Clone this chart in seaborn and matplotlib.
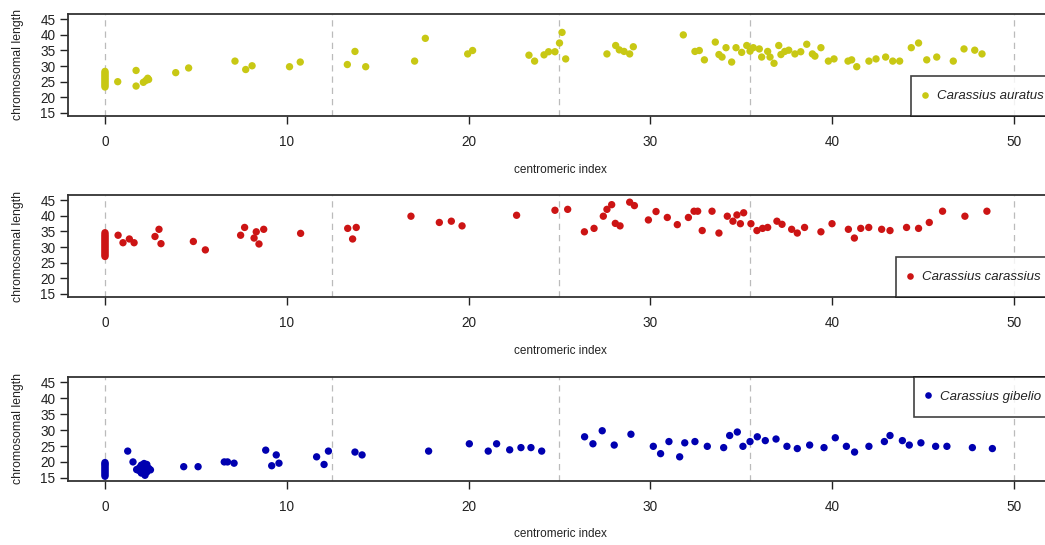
import numpy as np
import pandas as pd
import matplotlib
matplotlib.use("Agg")
import matplotlib.pyplot as plt
import seaborn as sns

# ---- data ----
auratus_ci = [0, 0, 0, 0, 0, 0, 0, 0, 0, 0, 0,
              0.70, 1.71, 1.71, 2.11, 2.25, 2.35, 2.40, 3.89, 4.60, 7.15, 7.74, 8.09,
              10.15, 10.74, 13.33, 13.75, 14.34, 17.03, 17.62, 19.95, 20.22,
              23.32, 23.63, 24.15, 24.40, 24.75, 25.00, 25.14, 25.34,
              27.61, 28.09, 28.29, 28.55, 28.86, 29.06, 31.81,
              32.45, 32.69, 32.97, 33.57, 33.77, 33.94, 34.16, 34.47, 34.71, 35.02,
              35.30, 35.48, 35.66, 35.99, 36.12, 36.45, 36.58, 36.80, 37.06, 37.18,
              37.39, 37.61, 37.95, 38.27, 38.60, 38.91, 39.05, 39.38, 39.79, 40.10,
              40.87, 41.07, 41.35, 42.02, 42.41, 42.94, 43.33, 43.71, 44.35, 44.75,
              45.20, 45.75, 46.66, 47.25, 47.84, 48.24]
auratus_len = [23.3, 23.8, 24.3, 24.8, 25.3, 25.8, 26.3, 26.8, 27.3, 27.8, 28.3,
               25.0, 28.6, 23.6, 24.8, 25.4, 26.1, 25.7, 27.9, 29.4, 31.6, 28.9, 30.1,
               29.8, 31.3, 30.5, 34.7, 29.8, 31.6, 38.9, 33.9, 35.0,
               33.5, 31.6, 33.6, 34.6, 34.6, 37.4, 40.8, 32.3,
               33.9, 36.6, 35.2, 34.7, 33.9, 36.2, 40.0,
               34.7, 35.0, 32.0, 37.7, 33.7, 32.9, 35.9, 31.3, 35.9, 34.4,
               36.6, 34.8, 35.9, 35.5, 32.9, 34.7, 32.9, 30.9, 36.6, 33.7,
               34.7, 35.1, 33.9, 34.6, 37.0, 33.9, 33.2, 35.9, 31.6, 32.3,
               31.6, 32.0, 29.8, 31.6, 32.3, 32.9, 31.6, 31.6, 35.9, 37.4,
               32.0, 32.9, 31.6, 35.5, 35.1, 33.9]

carassius_ci = [0] * 16 + [
                0.72, 0.99, 1.34, 1.60, 2.75, 2.97, 3.08, 4.86, 5.52, 7.46, 7.68,
                8.20, 8.32, 8.47, 8.73, 10.76, 13.35, 13.62, 13.82, 16.83, 18.39,
                19.05, 19.64, 22.64, 24.75, 25.45, 26.37, 26.90, 27.41, 27.61, 27.87,
                28.07, 28.33, 28.86, 29.12, 29.89, 30.31, 30.93, 31.48, 32.09,
                32.40, 32.60, 32.85, 33.39, 33.77, 34.23, 34.54, 34.76, 34.95, 35.13,
                35.53, 35.86, 36.17, 36.45, 36.96, 37.24, 37.77, 38.08, 38.48, 39.38,
                39.99, 40.89, 41.22, 41.57, 42.01, 42.72, 43.18, 44.09, 44.75, 45.34,
                46.07, 47.30, 48.51]
carassius_len = [27.0, 27.5, 28.0, 28.5, 29.0, 29.5, 30.0, 30.5, 31.0, 31.5, 32.0,
                 32.5, 33.0, 33.5, 34.0, 34.6,
                 33.8, 31.4, 32.6, 31.4, 33.4, 35.7, 31.1, 31.8, 29.1, 33.8, 36.3,
                 32.9, 34.9, 31.0, 35.7, 34.4, 36.0, 32.6, 36.3, 39.9, 37.9,
                 38.3, 36.8, 40.2, 41.8, 42.1, 34.9, 36.0, 39.9, 42.1, 43.6,
                 37.6, 36.8, 44.4, 43.3, 38.7, 41.4, 39.5, 37.2, 39.5,
                 41.5, 41.5, 35.3, 41.5, 34.5, 39.9, 38.3, 40.3, 37.5, 41.0,
                 37.5, 35.3, 36.0, 36.3, 38.3, 37.3, 35.7, 34.5, 36.3, 34.9,
                 37.5, 35.7, 32.9, 36.0, 36.3, 35.7, 35.3, 36.3, 36.0, 37.9,
                 41.5, 39.9, 41.5]

gibelio_ci = [0] * 10 + [
              1.25, 1.54, 1.74, 1.80, 1.90, 1.95, 2.00, 2.00, 2.10, 2.10, 2.15, 2.20,
              2.20, 2.30, 2.30, 2.40, 2.50,
              4.33, 5.12, 6.56, 6.74, 7.10, 8.84, 9.17, 9.42, 9.57, 11.64, 12.05,
              12.29, 13.75, 14.14, 17.80, 20.04, 21.08, 21.54, 22.26, 22.88, 23.43,
              24.02, 26.38, 26.84, 27.35, 28.01, 28.93, 30.16, 30.56, 31.02, 31.61,
              31.89, 32.45, 33.13, 34.03, 34.36, 34.78, 35.09, 35.48, 35.88, 36.32,
              36.91, 37.51, 38.08, 38.76, 39.55, 40.17, 40.78, 41.23, 42.02, 42.87,
              43.18, 43.86, 44.24, 44.88, 45.69, 46.31, 47.71, 48.81]
gibelio_len = [15.5, 16.0, 16.5, 17.0, 17.5, 18.0, 18.5, 19.0, 19.4, 19.8,
               23.4, 20.0, 17.6, 17.5, 18.2, 17.0, 16.5, 19.0, 17.0, 18.5, 19.5, 15.8,
               17.8, 19.2, 16.8, 18.0, 17.5,
               18.5, 18.5, 20.0, 20.0, 19.6, 23.7, 18.8, 22.2, 19.6, 21.6, 19.2,
               23.4, 23.1, 22.2, 23.4, 25.7, 23.4, 25.7, 23.8, 24.5, 24.5,
               23.4, 27.9, 25.7, 29.8, 25.3, 28.7, 24.9, 22.6, 26.4, 21.6,
               26.0, 26.4, 24.9, 24.5, 28.3, 29.4, 24.9, 26.4, 27.9, 26.7,
               27.2, 24.9, 24.2, 25.3, 24.5, 27.6, 24.9, 23.1, 24.9, 26.4,
               28.3, 26.7, 25.3, 26.0, 24.9, 24.9, 24.5, 24.2]

species = ["Carassius auratus", "Carassius carassius", "Carassius gibelio"]
colors = ["#C8C814", "#CC1414", "#0000B0"]
x_ticks = [0, 10, 20, 30, 40, 50]
y_ticks = [15, 20, 25, 30, 35, 40, 45]
ref_lines = [0, 12.5, 25, 35.5, 50]

frames = [
    pd.DataFrame({"ci": auratus_ci, "len": auratus_len, "species": species[0]}),
    pd.DataFrame({"ci": carassius_ci, "len": carassius_len, "species": species[1]}),
    pd.DataFrame({"ci": gibelio_ci, "len": gibelio_len, "species": species[2]}),
]

sns.set_style("white")
plt.rcParams["font.family"] = ["Liberation Sans", "DejaVu Sans"]

W, H = 1045, 545
fig = plt.figure(figsize=(W / 100, H / 100), dpi=100)

# pixel geometry: (top, bottom) of each panel, legend left
panels = [(14, 116), (195, 297), (377, 481)]
leg_left = [911, 896, 914]
leg_loc = ["lower left", "lower left", "upper left"]
xlabel_y = [170, 351, 534]
ax_left, ax_right = 68, 1052

for i, df in enumerate(frames):
    top, bot = panels[i]
    ax = fig.add_axes([ax_left / W, 1 - bot / H, (ax_right - ax_left) / W, (bot - top) / H])
    for xv in ref_lines:
        ax.axvline(xv, color="#BBBBBB", lw=0.9, ls=(0, (5, 4)), zorder=0)
    sns.scatterplot(data=df, x="ci", y="len", hue="species", palette=[colors[i]],
                    s=28, linewidth=0, ax=ax, zorder=3, legend=True)
    ax.set_xlim(-2.035, (ax_right - 105) / 18.18)
    ax.set_ylim(14.0, 46.7)
    ax.set_xticks(x_ticks)
    ax.set_yticks(y_ticks)
    ax.tick_params(axis="x", direction="out", length=6, width=1, pad=8,
                   labelsize=9.8, colors="#222222", bottom=True)
    ax.tick_params(axis="y", direction="out", length=6, width=1, pad=3,
                   labelsize=9.8, colors="#222222", left=True)
    for sp in ax.spines.values():
        sp.set_color("#333333")
        sp.set_linewidth(1.3)
    ax.set_xlabel("centromeric index", fontsize=8.5, color="#222222")
    ax.set_ylabel("chromosomal length", fontsize=8.8, color="#222222")
    ax.yaxis.set_label_coords((18 - ax_left) / (ax_right - ax_left), 0.5)
    ax.xaxis.set_label_coords((560 - ax_left) / (ax_right - ax_left),
                              (bot - xlabel_y[i]) / (bot - top))
    ax.xaxis.label.set_va("center")
    ax.yaxis.label.set_va("center")

    anchor_y = 0 if leg_loc[i].startswith("lower") else 1
    leg = ax.legend(loc=leg_loc[i],
                    bbox_to_anchor=((leg_left[i] - ax_left) / (ax_right - ax_left), anchor_y),
                    frameon=True, fancybox=False, borderaxespad=0, borderpad=1.05,
                    handlelength=0.0, handletextpad=0.95,
                    markerscale=0.9, prop={"style": "italic", "size": 9.5})
    leg.get_frame().set_edgecolor("#111111")
    leg.get_frame().set_linewidth(1.2)
    for t in leg.get_texts():
        t.set_color("#222222")

fig.savefig("out.png", dpi=100)
